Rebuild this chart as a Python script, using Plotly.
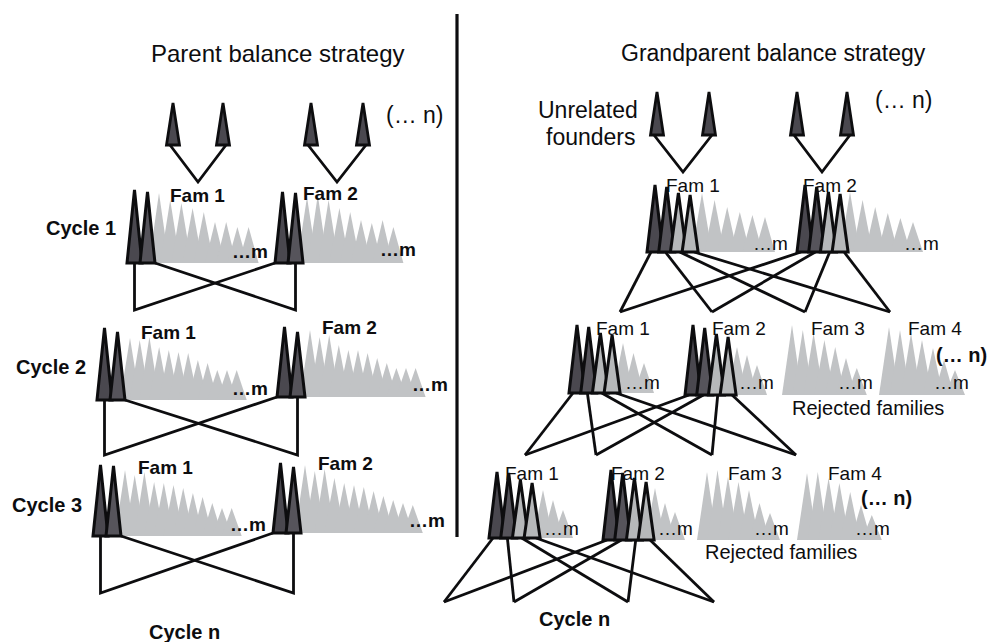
import plotly.graph_objects as go

W, H = 990, 642

# ------------------------------------------------------------------ data
TITLE_LEFT = "Parent balance strategy"
TITLE_RIGHT = "Grandparent balance strategy"
CYCLE_LABELS = ["Cycle 1", "Cycle 2", "Cycle 3", "Cycle n"]
FAMILY_LABELS = ["Fam 1", "Fam 2", "Fam 3", "Fam 4"]
MORE_FAMILIES = "(\u2026 n)"
MORE_SIBS = "\u2026m"
FOUNDERS_LABEL = ["Unrelated", "founders"]
REJECTED_LABEL = "Rejected families"

# parent balance: heights of the two selected (dark) sibs per family and cycle
PB_DARK_H_FAM1 = [[73, 71], [72, 68], [71, 70]]
PB_DARK_H_FAM2 = [[71, 70], [70, 65], [70, 66]]
# parent balance: heights of the remaining (grey) sibs
PB_GREY_H_FAM1 = [
    [70, 63, 60, 55, 51, 41, 41, 36, 36],
    [62, 60, 63, 53, 50, 48, 47, 40, 37, 30, 30, 30],
    [66, 61, 64, 54, 53, 51, 48, 43, 39, 33, 28, 28],
]
PB_GREY_H_FAM2 = [
    [66, 68, 63, 55, 51, 43, 40, 43, 36],
    [67, 60, 62, 52, 47, 47, 44, 39, 34, 29, 29, 29],
    [68, 62, 64, 55, 50, 48, 46, 42, 37, 33, 30, 28],
]

# grandparent balance: four selected sibs per selected family
GB_DARK_H_FAM1 = [[67, 65, 59, 57], [68, 66, 60, 58], [66, 65, 58, 55]]
GB_DARK_H_FAM2 = [[67, 65, 60, 58], [70, 67, 61, 58], [70, 67, 62, 58]]
GB_DARK_KIND = ["dark", "dark2", "light", "light"]
GB_GREY_H_FAM1 = [[59, 52, 45, 40, 37, 35], [50, 40, 30], [48, 38, 28]]
GB_GREY_H_FAM2 = [[60, 52, 45, 39, 34, 30], [48, 40, 30], [52, 37, 28]]
# rejected families (cycles 2 and 3)
GB_REJ_H_FAM3 = [[70, 65, 62, 55, 48, 37, 27], [68, 70, 63, 58, 50, 37, 27]]
GB_REJ_H_FAM4 = [[68, 65, 62, 55, 47, 35, 25], [67, 68, 62, 57, 48, 35, 25]]

# ------------------------------------------------------------------ layout / style
FONT = "Liberation Sans, Arial, sans-serif"
BLACK = "#0d0d0f"
GREY = "#c1c3c5"
FILLS = {"dark": "#4a484f", "dark2": "#56545b", "light": "#b6b8ba"}

PB_BASE = [(263, 263), (400, 397), (536, 533)]
PB_DARK_X0 = [(127, 275), (97, 277), (93, 273)]
PB_GREY_X0 = [(159, 307), (130, 310), (125, 305)]
PB_GREY_STEP = [(11.2, 10.8), (9.7, 9.6), (9.7, 9.8)]
PB_LINK_Y = [310, 455, 593]
PB_DARK_HW, PB_DARK_STEP = 7.5, 13

GB_BASE = [(252, 252), (393, 395), (538, 540)]
GB_DARK_X0 = [(647, 797), (569, 685), (489, 603)]
GB_GREY_X0 = [(702, 850), (623, 737), (543, 655)]
GB_GREY_STEP = [(12.6, 12.6), (10.5, 10.0), (10.0, 10.0)]
GB_REJ_X0 = [(792, 889), (707, 807)]
GB_REJ_STEP = [(10.8, 11.0), (10.5, 10.8)]
GB_REJ_BASE = [395, 540]
GB_LINK_Y = [312, 455, 602]
GB_LINK_X = [[620, 712, 805, 890], [525, 596, 712, 796], [444, 514, 628, 714]]
GB_DARK_HW, GB_DARK_STEP = 8, 11.7
GREY_HW = 10

PB_FOUNDERS = [(173, 223), (311, 363)]
PB_FOUNDER_Y = (103, 145, 182)
GB_FOUNDERS = [(657, 709), (797, 847)]
GB_FOUNDER_Y = (92, 135, 172)
FOUNDER_HW = 6.5

shapes = []


def tri(cx, base, h, hw):
    return f"M{cx - hw},{base} L{cx},{base - h} L{cx + hw},{base} Z"


def add_grey(x_first, step, base, heights):
    for i, h in enumerate(heights):
        shapes.append(dict(type="path", path=tri(x_first + i * step, base, h, GREY_HW),
                           xref="x", yref="y", fillcolor=GREY, line=dict(width=0)))


def add_dark(x_left, step, hw, base, heights, kinds):
    for i, h in enumerate(heights):
        cx = x_left + hw + i * step
        shapes.append(dict(type="path", path=tri(cx, base, h, hw), xref="x", yref="y",
                           fillcolor=FILLS[kinds[i]], line=dict(color=BLACK, width=3)))


def add_line(pts, width=2.8):
    path = "M" + " L".join(f"{x},{y}" for x, y in pts)
    shapes.append(dict(type="path", path=path, xref="x", yref="y",
                       line=dict(color=BLACK, width=width)))


# divider
add_line([(457, 14), (457, 537)], width=3.2)

# founders + V links
for (pairs, (top, base, apex)) in [(PB_FOUNDERS, PB_FOUNDER_Y), (GB_FOUNDERS, GB_FOUNDER_Y)]:
    for a, b in pairs:
        add_line([(a - 3, base), ((a + b) / 2, apex), (b + 3, base)])
        for c in (a, b):
            shapes.append(dict(type="path", path=tri(c, base, base - top, FOUNDER_HW),
                               xref="x", yref="y", fillcolor=FILLS["dark"],
                               line=dict(color=BLACK, width=2.8)))

# parent balance cycles
for k in range(3):
    b1, b2 = PB_BASE[k]
    add_grey(PB_GREY_X0[k][0], PB_GREY_STEP[k][0], b1, PB_GREY_H_FAM1[k])
    add_grey(PB_GREY_X0[k][1], PB_GREY_STEP[k][1], b2, PB_GREY_H_FAM2[k])
    x1, x2 = PB_DARK_X0[k]
    c1 = [x1 + PB_DARK_HW + i * PB_DARK_STEP for i in range(2)]
    c2 = [x2 + PB_DARK_HW + i * PB_DARK_STEP for i in range(2)]
    ly = PB_LINK_Y[k]
    add_line([(c1[0], b1), (c1[0], ly), (x2, b2)])
    add_line([(c1[1] + PB_DARK_HW, b1), (c2[1], ly), (c2[1], b2)])
    add_dark(x1, PB_DARK_STEP, PB_DARK_HW, b1, PB_DARK_H_FAM1[k], ["dark", "dark2"])
    add_dark(x2, PB_DARK_STEP, PB_DARK_HW, b2, PB_DARK_H_FAM2[k], ["dark", "dark2"])

# grandparent balance cycles
for k in range(3):
    b1, b2 = GB_BASE[k]
    add_grey(GB_GREY_X0[k][0], GB_GREY_STEP[k][0], b1, GB_GREY_H_FAM1[k])
    add_grey(GB_GREY_X0[k][1], GB_GREY_STEP[k][1], b2, GB_GREY_H_FAM2[k])
    if k >= 1:
        add_grey(GB_REJ_X0[k - 1][0], GB_REJ_STEP[k - 1][0], GB_REJ_BASE[k - 1], GB_REJ_H_FAM3[k - 1])
        add_grey(GB_REJ_X0[k - 1][1], GB_REJ_STEP[k - 1][1], GB_REJ_BASE[k - 1], GB_REJ_H_FAM4[k - 1])
    for x_left, base in [(GB_DARK_X0[k][0], b1), (GB_DARK_X0[k][1], b2)]:
        x_right = x_left + 2 * GB_DARK_HW + 3 * GB_DARK_STEP
        for i, tx in enumerate(GB_LINK_X[k]):
            ax = x_left + 4 + i * (x_right - x_left - 8) / 3
            add_line([(ax, base), (tx, GB_LINK_Y[k])])
    add_dark(GB_DARK_X0[k][0], GB_DARK_STEP, GB_DARK_HW, b1, GB_DARK_H_FAM1[k], GB_DARK_KIND)
    add_dark(GB_DARK_X0[k][1], GB_DARK_STEP, GB_DARK_HW, b2, GB_DARK_H_FAM2[k], GB_DARK_KIND)

# ------------------------------------------------------------------ text
ann = []


def txt(s, x, y, size, bold=False):
    ann.append(dict(text=f"<b>{s}</b>" if bold else s, x=x, y=y, xref="x", yref="y",
                    showarrow=False, xanchor="center", yanchor="middle",
                    font=dict(family=FONT, size=size, color=BLACK)))


txt(TITLE_LEFT, 278, 53, 24)
txt(TITLE_RIGHT, 773, 53, 23)
txt(MORE_FAMILIES, 415, 115, 23)
txt(MORE_FAMILIES, 904, 100, 23)
txt(FOUNDERS_LABEL[0], 588, 110, 23)
txt(FOUNDERS_LABEL[1], 591, 137, 23)

for s, (x, y) in zip(CYCLE_LABELS, [(81, 228), (51, 367), (47, 505), (184, 632)]):
    txt(s, x, y, 20, bold=True)
txt(CYCLE_LABELS[3], 574, 619, 20, bold=True)

for (f1, f2) in [((197, 195), (330, 193)), ((168, 332), (349, 327)), ((165, 467), (345, 463))]:
    txt(FAMILY_LABELS[0], *f1, 19, bold=True)
    txt(FAMILY_LABELS[1], *f2, 19, bold=True)
for (x, y) in [(250, 251), (398, 249), (250, 388), (430, 384), (248, 524), (427, 520)]:
    txt(MORE_SIBS, x, y, 19, bold=True)

txt(FAMILY_LABELS[0], 693, 185, 19)
txt(FAMILY_LABELS[1], 830, 185, 19)
for s, x in zip(FAMILY_LABELS, [623, 739, 838, 935]):
    txt(s, x, 328, 19)
for s, x in zip(FAMILY_LABELS, [532, 638, 755, 855]):
    txt(s, x, 473, 19)
for (x, y) in [(770, 243), (921, 243), (642, 382), (756, 382), (855, 382), (951, 382),
               (561, 528), (675, 528), (771, 528), (872, 528)]:
    txt(MORE_SIBS, x, y, 19)
txt(MORE_FAMILIES, 961, 355, 20, bold=True)
txt(MORE_FAMILIES, 886, 498, 20, bold=True)
txt(REJECTED_LABEL, 868, 408, 20)
txt(REJECTED_LABEL, 781, 552, 20)

fig = go.Figure(go.Scatter(x=[], y=[]))
fig.update_layout(
    width=W, height=H, margin=dict(l=0, r=0, t=0, b=0),
    paper_bgcolor="white", plot_bgcolor="white", showlegend=False,
    xaxis=dict(range=[0, W], visible=False, fixedrange=True),
    yaxis=dict(range=[H, 0], visible=False, fixedrange=True),
    shapes=shapes, annotations=ann,
)
fig.write_html(
    "out.html",
    config={"displayModeBar": False},
    post_script="document.body.style.margin='0';document.body.style.overflow='hidden';",
)
